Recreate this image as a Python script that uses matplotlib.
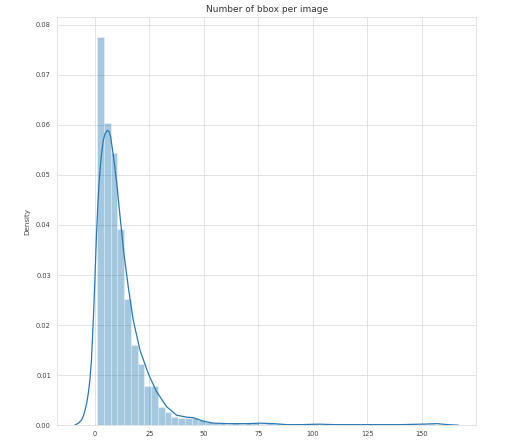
import numpy as np
import matplotlib
matplotlib.use("Agg")
import matplotlib.pyplot as plt
import seaborn as sns

# histogram: 50 bins between the smallest and largest bbox count
bbox_min = 1
bbox_max = 156
n_bins = 50
bin_density = [
    0.0775, 0.0603, 0.0543, 0.0393, 0.0253, 0.0160, 0.0123, 0.0078, 0.0078, 0.0037,
    0.0027, 0.0016, 0.0014, 0.0015, 0.0015, 0.0011, 0.0006, 0.0004, 0.0004, 0.0003,
    0.0004, 0.0003, 0.0004, 0.0004, 0.0003, 0.0004, 0.0003, 0.0002, 0.0001, 0.0001,
    0.0000, 0.0001, 0.0002, 0.0001, 0.0001, 0.0000, 0.0001, 0.0000, 0.0001, 0.0000,
    0.0001, 0.0000, 0.0001, 0.0000, 0.0000, 0.0001, 0.0001, 0.0002, 0.0002, 0.0002,
]

# kde curve
kde_x = [-9.2, -7.5, -6.1, -5.0, -3.8, -3.0, -2.3, -1.6, -1.06, -0.5, 0.0, 0.78, 1.4,
         2.0, 2.6, 3.1, 3.8, 4.6, 5.7, 6.5, 7.2, 8.6, 10.2, 11.6, 13.3, 15.3, 17.6,
         20.7, 24.5, 28.3, 32.9, 37.5, 42.1, 45.1, 49.7, 54.3, 61, 70, 76, 82, 88,
         95, 103, 110, 125, 140, 150, 157, 162, 166.8]
kde_y = [0.0, 0.0004, 0.0010, 0.0022, 0.0043, 0.0064, 0.0090, 0.0128, 0.0177, 0.0232,
         0.0290, 0.0385, 0.0443, 0.0490, 0.0522, 0.0543, 0.0568, 0.0582, 0.0589, 0.0587,
         0.0577, 0.0535, 0.0477, 0.0415, 0.0344, 0.0277, 0.0210, 0.0150, 0.0103, 0.0067,
         0.0037, 0.0020, 0.0016, 0.0015, 0.0008, 0.0004, 0.0003, 0.0003, 0.0004, 0.0003,
         0.0001, 0.0001, 0.0002, 0.0001, 0.0001, 0.0001, 0.0002, 0.0003, 0.0001, 0.0]

x_ticks = [0, 25, 50, 75, 100, 125, 150]
y_ticks = [0.00, 0.01, 0.02, 0.03, 0.04, 0.05, 0.06, 0.07, 0.08]

sns.set_style("whitegrid")
plt.rcParams["font.family"] = ["DejaVu Sans"]

fig = plt.figure(figsize=(5.06, 4.48), dpi=100)
ax = fig.add_axes([0.113, 0.051, 0.8277, 0.9103])

edges = np.linspace(bbox_min, bbox_max, n_bins + 1)
ax.bar(edges[:-1], bin_density, width=np.diff(edges), align="edge",
       color="#1f77b4", alpha=0.4, edgecolor="white", linewidth=0.5)
ax.plot(kde_x, kde_y, color="#2a78b3", linewidth=0.9)

ax.set_xlim(-17.3, 174.9)
ax.set_ylim(0, 0.0815)
ax.set_xticks(x_ticks)
ax.set_yticks(y_ticks)
ax.set_yticklabels([f"{v:.2f}" for v in y_ticks])
ax.tick_params(labelsize=4.8, colors=".25", pad=4.5, length=0)
ax.grid(True, color=".87", linewidth=0.6)
for s in ax.spines.values():
    s.set_color(".87")
    s.set_linewidth(0.6)

ax.set_ylabel("Density", fontsize=5.1, color=".25", labelpad=4)
ax.set_title("Number of bbox per image", fontsize=6.5, color=".2", pad=4)

fig.savefig("out.png", dpi=100)
